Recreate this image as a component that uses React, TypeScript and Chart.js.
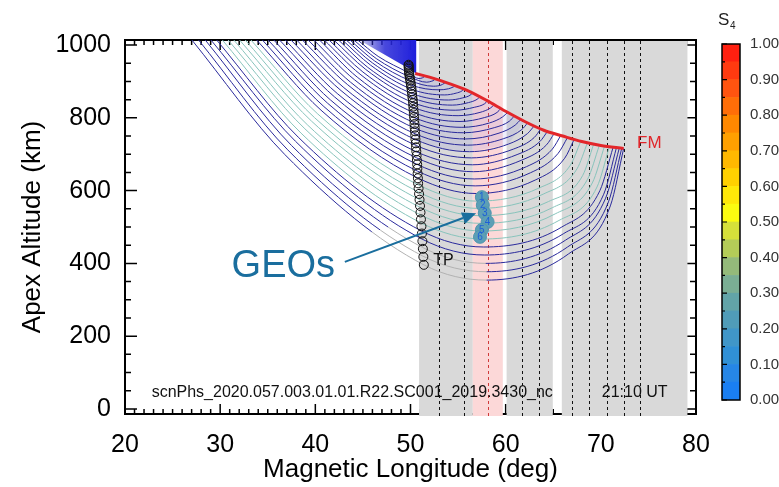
import React, { useEffect, useRef } from 'react';
import { Chart, registerables } from 'chart.js';

Chart.register(...registerables);

const FONT = "'Liberation Sans', Arial, Helvetica, sans-serif";

// ---------- axes ----------
const xTicks = [20, 30, 40, 50, 60, 70, 80];
const yTicks = [0, 200, 400, 600, 800, 1000];
const xMin = 20;
const xMax = 80;
const yMin = -14;
const yMax = 1014;
const xMinorStep = 1;
const yMinorStep = 50;

// ---------- ray curves (lowest / outermost first) ----------
const topAlt = 1015;
const topLon = [27.0, 27.7, 28.4, 29.0, 29.6, 30.2, 30.8, 31.4, 32.0, 32.6, 33.2, 33.8, 34.4, 35.0, 35.6, 36.2, 36.8, 37.4, 38.0, 38.6, 39.2, 39.8, 40.4, 40.9, 41.4, 41.9, 42.4, 42.8, 43.2, 43.6, 44.0, 44.4];
const leftLon = [36.8, 37.1, 37.5, 37.9, 38.2, 38.5, 38.9, 39.2, 39.6, 39.9, 40.2, 40.6, 40.9, 41.3, 41.6, 42.0, 42.3, 42.7, 43.0, 43.4, 43.7, 44.1, 44.4, 44.7, 45.0, 45.3, 45.5, 45.8, 46.0, 46.2, 46.4, 46.6];
const leftAlt = [699, 712, 724, 736, 747, 758, 770, 780, 791, 801, 812, 821, 831, 840, 849, 858, 867, 875, 883, 891, 898, 905, 912, 920, 926, 933, 939, 945, 951, 957, 963, 969];
const crossLon = [51.4, 51.3, 51.25, 51.2, 51.1, 51.05, 51.0, 50.95, 50.9, 50.85, 50.8, 50.75, 50.7, 50.7, 50.65, 50.6, 50.6, 50.55, 50.5, 50.5, 50.45, 50.45, 50.4, 50.4, 50.35, 50.3, 50.25, 50.2, 50.1, 50.0, 49.9, 49.8];
const crossAlt = [396, 420, 444, 467, 490, 512, 534, 555, 576, 596, 616, 635, 654, 672, 690, 707, 724, 740, 756, 771, 786, 800, 814, 828, 841, 854, 866, 878, 890, 902, 913, 924];
const minLon = [58.0, 58.0, 57.9, 57.8, 57.7, 57.6, 57.5, 57.4, 57.3, 57.2, 57.0, 56.9, 56.8, 56.7, 56.6, 56.5, 56.4, 56.2, 56.0, 55.8, 55.6, 55.4, 55.2, 55.0, 54.7, 54.4, 54.0, 53.6, 53.0, 52.4, 51.7, 50.9];
const minAlt = [354, 377, 400, 423, 445, 467, 489, 510, 531, 551, 571, 592, 613, 632, 652, 671, 690, 707, 725, 742, 759, 774, 790, 806, 821, 835, 849, 863, 877, 887, 898, 908];
const r1Lon = [66.6, 66.5, 66.3, 66.1, 65.9, 65.6, 65.2, 64.9, 64.5, 64.0, 63.5, 63.1, 62.6, 62.2, 61.7, 61.2, 60.8, 60.3, 59.8, 59.3, 58.8, 58.3, 57.8, 57.3, 56.7, 56.1, 55.5, 54.8, 54.0, 53.2, 52.25, 51.25];
const r1Alt = [426, 445, 464, 482, 500, 518, 536, 553, 570, 591, 607, 629, 649, 666, 684, 699, 714, 728, 743, 758, 773, 786, 801, 815, 829, 842, 855, 868, 880, 890, 901, 910];
const r2Lon = [71.0, 70.8, 70.5, 70.3, 69.9, 69.6, 69.1, 68.6, 68.1, 67.5, 66.8, 66.2, 65.5, 64.9, 64.3, 63.6, 63.0, 62.3, 61.7, 61.0, 60.4, 59.7, 59.1, 58.4, 57.8, 57.0, 56.25, 55.4, 54.5, 53.55, 52.5, 51.45];
const r2Alt = [558, 569, 579, 590, 600, 610, 621, 631, 642, 660, 670, 689, 702, 714, 726, 735, 746, 757, 768, 780, 791, 803, 815, 827, 839, 851, 862, 874, 885, 895, 904, 913];
const endLon = [72.4, 72.2, 71.95, 71.65, 71.3, 70.9, 70.4, 69.85, 69.25, 68.6, 67.9, 67.2, 66.5, 65.8, 65.1, 64.4, 63.7, 63.0, 62.3, 61.6, 60.9, 60.2, 59.5, 58.8, 58.1, 57.3, 56.5, 55.6, 54.7, 53.7, 52.6, 51.5];
const endAlt = [716, 717, 718, 719, 720, 721, 723, 725, 728, 732, 736, 741, 746, 752, 757, 763, 770, 778, 786, 796, 805, 815, 826, 836, 847, 858, 868, 879, 888, 898, 907, 915];
// style class of each curve: 0 navy, 1 teal
const curveKind = [0, 0, 0, 0, 0, 1, 1, 1, 1, 1, 1, 0, 0, 0, 0, 0, 0, 0, 0, 0, 0, 0, 0, 0, 0, 0, 0, 0, 0, 0, 0, 0];
// longitude where the lowest curves turn grey (down to their minimum)
const grayFromLon = [46.0, 46.8, 47.6];

// ---------- tangent-point circles ----------
const tpLon = [51.4, 51.35, 51.3, 51.25, 51.2, 51.15, 51.1, 51.05, 51.0, 50.95, 50.9, 50.85, 50.8, 50.78, 50.75, 50.72, 50.7, 50.67, 50.64, 50.61, 50.58, 50.55, 50.52, 50.5, 50.47, 50.44, 50.42, 50.4, 50.37, 50.35, 50.32, 50.3, 50.27, 50.24, 50.2, 50.17, 50.13, 50.1, 50.06, 50.02, 49.98, 49.94, 49.9, 49.87, 49.85, 49.83, 49.82, 49.81, 49.8, 49.8];
const tpAlt = [396, 418, 440, 461, 482, 502, 521, 540, 558, 575, 591, 606, 620, 634, 647, 660, 672, 684, 696, 708, 719, 730, 741, 752, 763, 773, 783, 793, 803, 813, 822, 831, 840, 849, 857, 865, 873, 881, 888, 895, 902, 908, 914, 920, 925, 930, 935, 939, 943, 946];

// ---------- FM line ----------
const fmLon = [50.5, 52, 54, 56, 58, 60, 62, 64, 66, 68, 70, 72.4];
const fmAlt = [922, 912, 895, 875, 848, 818, 790, 766, 750, 735, 724, 716];

// ---------- dense ray regions (solid wedge, tinted region) ----------
const wedgeLon = [44.6, 50.6, 50.6, 49.9, 49.4];
const wedgeAlt = [1014, 1014, 921, 935, 942];
const tintLon = [49.8, 50.5, 52, 54, 56, 58, 60, 62, 60.3, 56.2, 53, 50.55];
const tintAlt = [946, 922, 912, 895, 875, 848, 818, 790, 728, 707, 718, 740];

// ---------- GEO points ----------
const geoLon = [57.5, 57.6, 57.8, 58.1, 57.5, 57.3];
const geoAlt = [582, 560, 538, 514, 492, 473];
const geoLabels = ['1', '2', '3', '4', '5', '6'];

// ---------- shaded bands / dotted lines ----------
const grayBands = [[50.9, 56.55], [60.1, 64.95], [65.9, 79.1]];
const pinkBand = [56.55, 59.7];
const dottedLons = [53.0, 55.6, 61.7, 63.5, 67.0, 68.8, 70.6, 72.4, 74.1];
const redDottedLon = 58.1;

// ---------- annotations ----------
const geoText = 'GEOs';
const geoTextAt = [31.2, 363];
const arrowFrom = [43.1, 404];
const arrowTo = [56.9, 538];
const tpText = 'TP';
const tpTextAt = [52.4, 396];
const fmText = 'FM';
const fmTextAt = [73.8, 717];
const fileText = 'scnPhs_2020.057.003.01.01.R22.SC001_2019.3430_nc';
const fileTextAt = [22.8, 33];
const utText = '21:10 UT';
const utTextAt = [70.1, 33];

// ---------- colour bar ----------
const s4Edges = [0.0, 0.05, 0.1, 0.15, 0.2, 0.25, 0.3, 0.35, 0.4, 0.45, 0.5, 0.55, 0.6, 0.65, 0.7, 0.75, 0.8, 0.85, 0.9, 0.95, 1.0];
const s4Colors = ['#1a7ff2', '#2686e6', '#3090d6', '#4096c8', '#509cb8', '#62a4a8', '#7aae94', '#94ba7a', '#b4cc58', '#d6e03a', '#fbfb10', '#ffe808', '#ffd000', '#ffb800', '#ffa000', '#ff8800', '#ff6e08', '#ff5410', '#ff3a10', '#ff2010'];
const s4Ticks = [0, 0.1, 0.2, 0.3, 0.4, 0.5, 0.6, 0.7, 0.8, 0.9, 1.0];

const NAVY = '#2a2a9c';
const TEAL = '#88c4bc';
const GREY = '#b2b2b2';

function polygon(ctx: any, x: any, y: any, lons: number[], alts: number[]) {
  ctx.beginPath();
  lons.forEach((l, k) => {
    const px = x.getPixelForValue(l);
    const py = y.getPixelForValue(alts[k]);
    if (k === 0) ctx.moveTo(px, py); else ctx.lineTo(px, py);
  });
  ctx.closePath();
}

const framePlugin = {
  id: 'frameBands',
  beforeDatasetsDraw(chart: any) {
    const { ctx, chartArea: a, scales } = chart;
    const x = scales.x;
    const y = scales.y;
    ctx.save();
    ctx.strokeStyle = '#000';
    ctx.lineWidth = 2;
    ctx.strokeRect(a.left, a.top, a.right - a.left, a.bottom - a.top);
    ctx.lineWidth = 1.5;
    ctx.beginPath();
    for (let v = xMin; v <= xMax; v += xMinorStep) {
      const px = x.getPixelForValue(v);
      const len = v % 10 === 0 ? 10 : 5;
      ctx.moveTo(px, a.bottom); ctx.lineTo(px, a.bottom - len);
      ctx.moveTo(px, a.top); ctx.lineTo(px, a.top + len);
    }
    for (let v = 0; v <= 1000; v += yMinorStep) {
      const py = y.getPixelForValue(v);
      const len = v % 200 === 0 ? 12 : 6;
      ctx.moveTo(a.left, py); ctx.lineTo(a.left + len, py);
      ctx.moveTo(a.right, py); ctx.lineTo(a.right - len, py);
    }
    ctx.stroke();
    const t = a.top + 1;
    const b = a.bottom + 2;
    ctx.fillStyle = '#d9d9d9';
    grayBands.forEach(([l0, l1]) => {
      const p0 = x.getPixelForValue(l0);
      const p1 = x.getPixelForValue(l1);
      ctx.fillRect(p0, t, p1 - p0, b - t);
    });
    ctx.fillStyle = '#fcd8d8';
    {
      const p0 = x.getPixelForValue(pinkBand[0]);
      const p1 = x.getPixelForValue(pinkBand[1]);
      ctx.fillRect(p0, t, p1 - p0, b - t);
    }
    ctx.lineWidth = 1;
    ctx.setLineDash([3, 3]);
    ctx.strokeStyle = '#111';
    ctx.beginPath();
    dottedLons.forEach((l) => {
      const px = Math.round(x.getPixelForValue(l)) + 0.5;
      ctx.moveTo(px, t); ctx.lineTo(px, b);
    });
    ctx.stroke();
    ctx.strokeStyle = '#d03a3a';
    ctx.beginPath();
    {
      const px = Math.round(x.getPixelForValue(redDottedLon)) + 0.5;
      ctx.moveTo(px, t); ctx.lineTo(px, b);
    }
    ctx.stroke();
    ctx.setLineDash([]);
    // dense-ray regions
    ctx.save();
    ctx.beginPath();
    ctx.rect(a.left, a.top, a.right - a.left, a.bottom - a.top);
    ctx.clip();
    ctx.fillStyle = 'rgba(90, 90, 225, 0.1)';
    polygon(ctx, x, y, tintLon, tintAlt);
    ctx.fill();
    const w0 = x.getPixelForValue(wedgeLon[0]);
    const w1 = x.getPixelForValue(wedgeLon[1]);
    const grad = ctx.createLinearGradient(w0, 0, w1, 0);
    grad.addColorStop(0, 'rgba(50, 50, 200, 0.25)');
    grad.addColorStop(0.45, 'rgba(40, 40, 215, 0.85)');
    grad.addColorStop(1, 'rgba(30, 30, 220, 1)');
    ctx.fillStyle = grad;
    polygon(ctx, x, y, wedgeLon, wedgeAlt);
    ctx.fill();
    ctx.restore();
    ctx.restore();
  },
};

const annotPlugin = {
  id: 'annot',
  afterDatasetsDraw(chart: any) {
    const { ctx, scales } = chart;
    const x = scales.x;
    const y = scales.y;
    const P = (p: number[]) => [x.getPixelForValue(p[0]), y.getPixelForValue(p[1])];
    ctx.save();
    const gi = chart.data.datasets.findIndex((d: any) => d.label === 'GEO');
    const meta = chart.getDatasetMeta(gi);
    ctx.font = `10px ${FONT}`;
    ctx.fillStyle = '#1d5fd8';
    ctx.textAlign = 'center';
    ctx.textBaseline = 'middle';
    meta.data.forEach((pt: any, k: number) => {
      ctx.fillText(geoLabels[k], pt.x, pt.y);
    });
    ctx.textAlign = 'left';
    ctx.textBaseline = 'alphabetic';
    const [ax0, ay0] = P(arrowFrom);
    const [ax1, ay1] = P(arrowTo);
    const ang = Math.atan2(ay1 - ay0, ax1 - ax0);
    const hl = 14;
    const hw = 6;
    ctx.strokeStyle = '#1a6e9e';
    ctx.fillStyle = '#1a6e9e';
    ctx.lineWidth = 2;
    ctx.beginPath();
    ctx.moveTo(ax0, ay0);
    ctx.lineTo(ax1 - hl * Math.cos(ang), ay1 - hl * Math.sin(ang));
    ctx.stroke();
    ctx.beginPath();
    ctx.moveTo(ax1, ay1);
    ctx.lineTo(ax1 - hl * Math.cos(ang) + hw * Math.sin(ang), ay1 - hl * Math.sin(ang) - hw * Math.cos(ang));
    ctx.lineTo(ax1 - hl * Math.cos(ang) - hw * Math.sin(ang), ay1 - hl * Math.sin(ang) + hw * Math.cos(ang));
    ctx.closePath();
    ctx.fill();
    ctx.font = `38px ${FONT}`;
    const [gx, gy] = P(geoTextAt);
    ctx.fillText(geoText, gx, gy);
    ctx.fillStyle = '#111';
    ctx.font = `16px ${FONT}`;
    const [tx, ty] = P(tpTextAt);
    ctx.fillText(tpText, tx, ty);
    ctx.fillStyle = '#e0262a';
    ctx.font = `17px ${FONT}`;
    const [fx, fy] = P(fmTextAt);
    ctx.fillText(fmText, fx, fy);
    ctx.fillStyle = '#111';
    ctx.font = `16px ${FONT}`;
    const [nx, ny] = P(fileTextAt);
    ctx.fillText(fileText, nx, ny);
    const [ux, uy] = P(utTextAt);
    ctx.fillText(utText, ux, uy);
    ctx.restore();
  },
};

const cbPlugin = {
  id: 'cbFrame',
  afterDatasetsDraw(chart: any) {
    const { ctx, chartArea: a, scales } = chart;
    const y = scales.y;
    ctx.save();
    ctx.strokeStyle = '#000';
    ctx.lineWidth = 1.5;
    ctx.strokeRect(a.left, a.top, a.right - a.left, a.bottom - a.top);
    ctx.lineWidth = 1.2;
    ctx.beginPath();
    s4Edges.forEach((v, k) => {
      const py = y.getPixelForValue(v);
      const len = k % 2 === 0 ? 5 : 3;
      ctx.moveTo(a.left, py); ctx.lineTo(a.left + len, py);
    });
    ctx.stroke();
    ctx.fillStyle = '#222';
    ctx.font = `17px ${FONT}`;
    ctx.fillText('S', 18, 25);
    ctx.font = `10px ${FONT}`;
    ctx.fillText('4', 30, 29);
    ctx.restore();
  },
};

export default function App() {
  const mainRef = useRef<HTMLCanvasElement>(null);
  const cbRef = useRef<HTMLCanvasElement>(null);

  useEffect(() => {
    Chart.defaults.font.family = FONT;
    const curveSets = topLon.map((_, i) => {
      const base = curveKind[i] === 1 ? TEAL : NAVY;
      const gFrom = grayFromLon[i];
      const ds: any = {
        label: `ray${i}`,
        data: [
          { x: topLon[i], y: topAlt },
          { x: leftLon[i], y: leftAlt[i] },
          { x: crossLon[i], y: crossAlt[i] },
          { x: minLon[i], y: minAlt[i] },
          { x: r1Lon[i], y: r1Alt[i] },
          { x: r2Lon[i], y: r2Alt[i] },
          { x: endLon[i], y: endAlt[i] },
        ],
        borderColor: base,
        borderWidth: 1,
        pointRadius: 0,
        cubicInterpolationMode: 'monotone',
        fill: false,
        order: 4,
      };
      if (gFrom !== undefined) {
        ds.segment = {
          borderColor: (sc: any) => {
            const k = sc.p0DataIndex;
            if (k === 2) return GREY;
            if (k === 1) {
              const gx = sc.chart.scales.x.getPixelForValue(gFrom);
              const x0 = sc.p0.x;
              const x1 = sc.p1.x;
              const f = Math.min(1, Math.max(0, (gx - x0) / (x1 - x0)));
              const g = sc.chart.ctx.createLinearGradient(x0, 0, x1, 0);
              g.addColorStop(0, base);
              g.addColorStop(f, base);
              g.addColorStop(f, GREY);
              g.addColorStop(1, GREY);
              return g;
            }
            return base;
          },
        };
      }
      return ds;
    });

    const main = new Chart(mainRef.current as HTMLCanvasElement, {
      type: 'line',
      data: {
        datasets: [
          ...curveSets,
          {
            label: 'FM',
            data: fmLon.map((v, k) => ({ x: v, y: fmAlt[k] })),
            borderColor: '#e3262a',
            borderWidth: 3,
            pointRadius: 0,
            cubicInterpolationMode: 'monotone',
            order: 3,
          },
          {
            label: 'TP',
            data: tpLon.map((v, k) => ({ x: v, y: tpAlt[k] })),
            showLine: false,
            pointRadius: 4.5,
            pointBackgroundColor: 'rgba(255,255,255,0)',
            pointBorderColor: '#111',
            pointBorderWidth: 1,
            order: 2,
          },
          {
            label: 'GEO',
            data: geoLon.map((v, k) => ({ x: v, y: geoAlt[k] })),
            showLine: false,
            pointRadius: 6.5,
            pointBackgroundColor: '#5c9fb6',
            pointBorderColor: '#5096ae',
            pointBorderWidth: 1,
            order: 1,
          },
        ] as any,
      },
      options: {
        animation: false,
        responsive: false,
        events: [],
        layout: { padding: { left: 0, right: 83, top: 40, bottom: 0 } },
        plugins: { legend: { display: false }, tooltip: { enabled: false } },
        scales: {
          x: {
            type: 'linear',
            min: xMin,
            max: xMax,
            afterBuildTicks: (s: any) => { s.ticks = xTicks.map((v) => ({ value: v })); },
            afterFit: (s: any) => { s.height = 73; },
            grid: { display: false },
            border: { display: false },
            ticks: { callback: (v: any) => String(v), font: { size: 25 }, color: '#000', padding: 8, maxRotation: 0, autoSkip: false },
            title: { display: true, text: 'Magnetic Longitude (deg)', font: { size: 26 }, color: '#000', padding: { top: 0, bottom: 2 } },
          },
          y: {
            type: 'linear',
            min: yMin,
            max: yMax,
            afterBuildTicks: (s: any) => { s.ticks = yTicks.map((v) => ({ value: v })); },
            afterFit: (s: any) => { s.width = 125; },
            grid: { display: false },
            border: { display: false },
            ticks: { callback: (v: any) => String(v), font: { size: 25 }, color: '#000', padding: 6, autoSkip: false },
            title: { display: true, text: 'Apex Altitude (km)', font: { size: 26 }, color: '#000', padding: { top: 17, bottom: 0 } },
          },
        },
      } as any,
      plugins: [framePlugin, annotPlugin],
    });

    const cb = new Chart(cbRef.current as HTMLCanvasElement, {
      type: 'bar',
      data: {
        labels: ['S4'],
        datasets: s4Colors.map((c, k) => ({
          data: [[s4Edges[k], s4Edges[k + 1]]],
          backgroundColor: c,
          borderWidth: 0,
          barPercentage: 1,
          categoryPercentage: 1,
          grouped: false,
        })) as any,
      },
      options: {
        animation: false,
        responsive: false,
        events: [],
        layout: { padding: { left: 22, right: 0, top: 44, bottom: 87 } },
        plugins: { legend: { display: false }, tooltip: { enabled: false } },
        scales: {
          x: { display: false },
          y: {
            min: 0,
            max: 1,
            position: 'right',
            afterBuildTicks: (s: any) => { s.ticks = s4Ticks.map((v) => ({ value: v })); },
            afterFit: (s: any) => { s.width = 39; },
            grid: { display: false },
            border: { display: false },
            ticks: { callback: (v: any) => Number(v).toFixed(2), font: { size: 15 }, color: '#333', padding: 2, autoSkip: false },
          },
        },
      } as any,
      plugins: [cbPlugin],
    });

    return () => {
      main.destroy();
      cb.destroy();
    };
  }, []);

  return (
    <div style={{ position: 'fixed', left: 0, top: 0, width: 779, height: 487, background: '#fff' }}>
      <canvas ref={mainRef} width={779} height={487} style={{ position: 'absolute', left: 0, top: 0 }} />
      <canvas ref={cbRef} width={79} height={487} style={{ position: 'absolute', left: 700, top: 0 }} />
    </div>
  );
}
